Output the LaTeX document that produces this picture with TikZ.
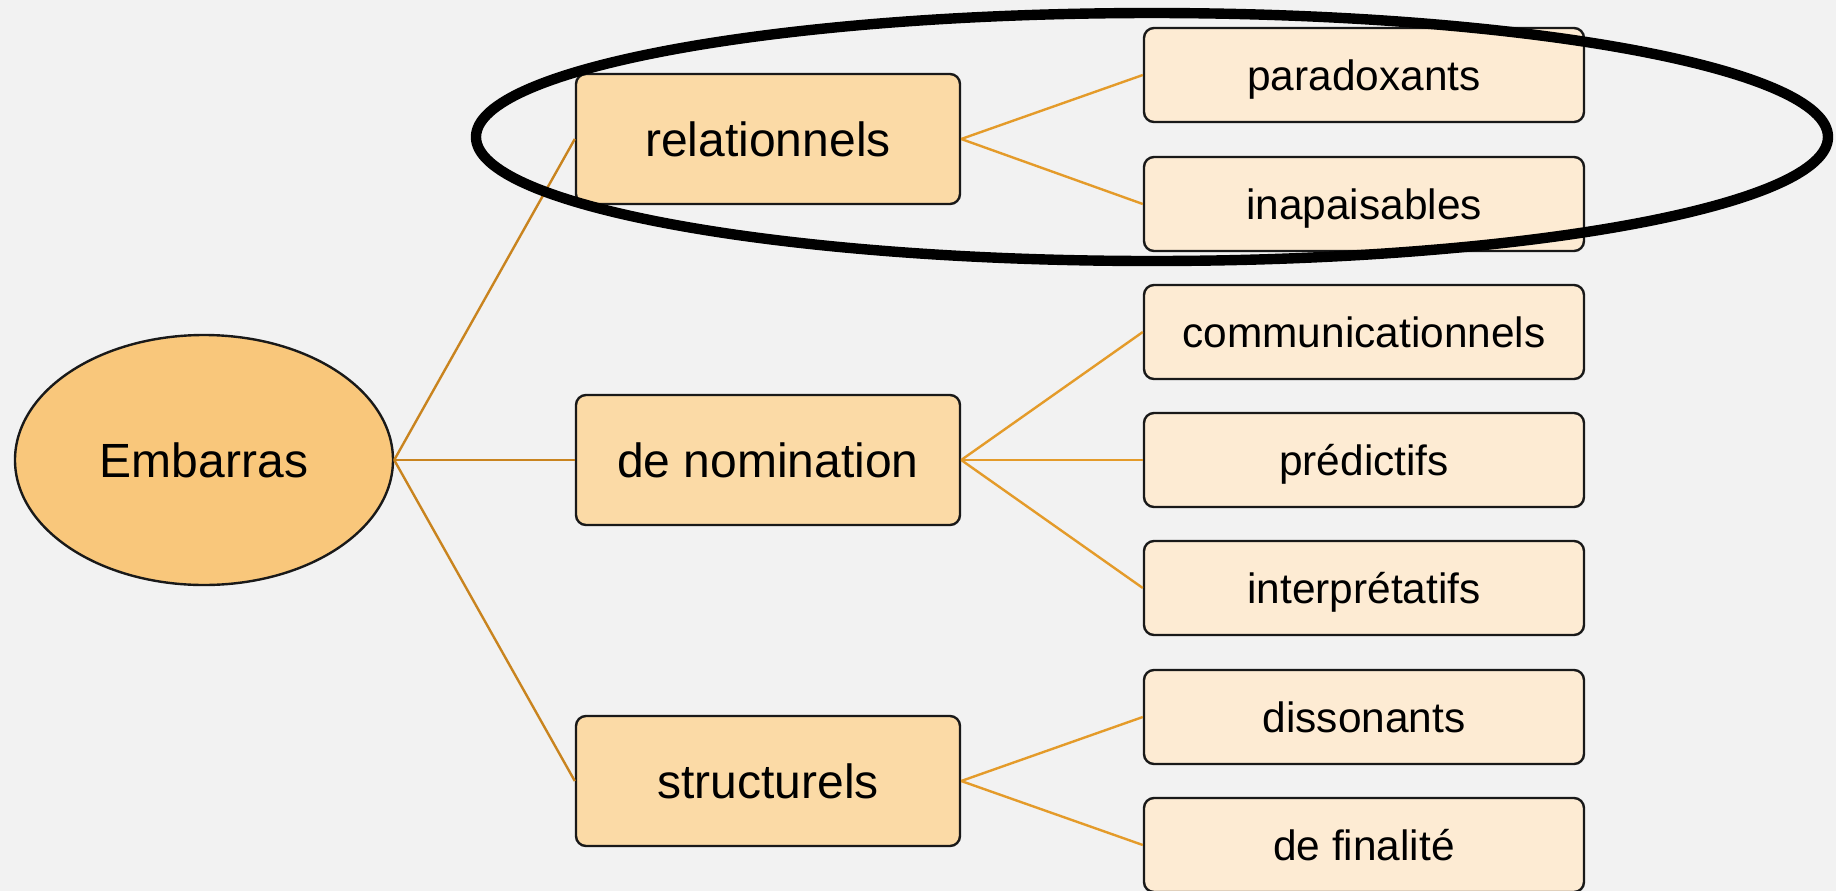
\documentclass[tikz,border=0pt]{standalone}
\usepackage{fontspec}
\setmainfont{Liberation Sans}
\usepackage{tikz}
\usetikzlibrary{shapes.geometric}
\definecolor{bgc}{HTML}{F2F2F2}
\definecolor{rootc}{HTML}{F9C77B}
\definecolor{midc}{HTML}{FBDAA6}
\definecolor{leafc}{HTML}{FDEBD3}
\definecolor{linea}{HTML}{C9841F}
\definecolor{lineb}{HTML}{E49B2A}

\begin{document}
\begin{tikzpicture}[x=0.25pt, y=-0.25pt,
    root/.style={draw=black!90, fill=rootc, ellipse, line width=0.6pt, minimum width=94.5pt, minimum height=62.5pt, inner sep=0pt, font=\fontsize{12}{14}\selectfont},
    mid/.style={draw=black!90, fill=midc, rounded corners=2.5pt, line width=0.6pt, minimum width=96pt, minimum height=32.5pt, inner sep=0pt, font=\fontsize{12}{14}\selectfont},
    leaf/.style={draw=black!90, fill=leafc, rounded corners=2.5pt, line width=0.6pt, minimum width=110pt, minimum height=23.5pt, inner sep=0pt, text height=0.9em, text depth=0.15em, font=\fontsize{10.6}{12}\selectfont},
    linkA/.style={draw=linea, line width=0.6pt},
    linkB/.style={draw=lineb, line width=0.6pt}]
    \fill[bgc] (0,0) rectangle (1836,891);
    \useasboundingbox (0,0) rectangle (1836,891);
    \node[root] (E) at (204,460) {Embarras};
    \node[mid] (R) at (768,139) {relationnels};
    \node[mid] (N) at (768,460) {de nomination};
    \node[mid] (S) at (768,781) {structurels};
    \node[leaf] (R1) at (1364,75) {paradoxants};
    \node[leaf] (R2) at (1364,204) {inapaisables};
    \node[leaf] (N1) at (1364,332) {communicationnels};
    \node[leaf] (N2) at (1364,460) {prédictifs};
    \node[leaf] (N3) at (1364,588) {interprétatifs};
    \node[leaf] (S1) at (1364,717) {dissonants};
    \node[leaf] (S2) at (1364,845) {de finalité};
    \path [linkA] (E.east) edge (R.west);
    \path [linkA] (E.east) edge (N.west);
    \path [linkA] (E.east) edge (S.west);
    \path [linkB] (R.east) edge (R1.west);
    \path [linkB] (R.east) edge (R2.west);
    \path [linkB] (N.east) edge (N1.west);
    \path [linkB] (N.east) edge (N2.west);
    \path [linkB] (N.east) edge (N3.west);
    \path [linkB] (S.east) edge (S1.west);
    \path [linkB] (S.east) edge (S2.west);
    \node[draw=black, ellipse, line width=2.6pt, minimum width=338pt, minimum height=62pt, inner sep=0pt] (hl) at (1152,137) {};
  \end{tikzpicture}
\end{document}
